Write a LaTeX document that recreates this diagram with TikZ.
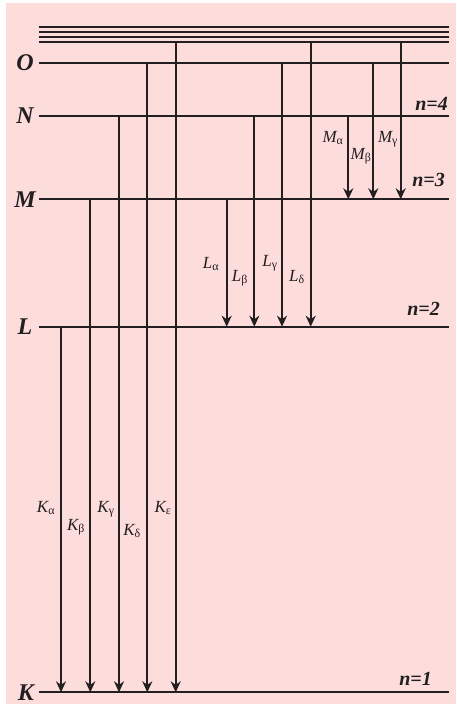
\documentclass[tikz,border=0pt]{standalone}
\usepackage{fontspec}
\setmainfont{Liberation Serif}
\usetikzlibrary{arrows.meta}
\definecolor{bgpink}{HTML}{FDDCDC}
\definecolor{ink}{HTML}{231F20}
\tikzset{lvl/.style={font=\fontsize{24}{24}\selectfont\bfseries\itshape,text=ink},
shell/.style={line width=2pt,draw=ink},
trans/.style={line width=2pt,draw=ink,-{Stealth[length=11pt,width=10pt]}},
qn/.style={font=\fontsize{20}{20}\selectfont\bfseries\itshape,text=ink,anchor=east,inner sep=0pt},
tlbl/.style={font=\fontsize{17}{17}\selectfont\itshape,text=ink,inner sep=0pt}}
\begin{document}
\begin{tikzpicture}[x=1pt,y=-1pt]
\useasboundingbox(0,0)rectangle(456,704);\fill[bgpink](6,3)rectangle(456,704);
% shells
\node[lvl](O)at(25,62.7){O};\node[lvl](N)at(25,116){N};\node[lvl](M)at(25,199.3){M};\node[lvl](L)at(25,326.7){L};\node[lvl](K)at(26,692.3){K};
\coordinate(inf)at(39,41.7);
\foreach\y in{26.7,31.7,36.7}\draw[shell](39,\y)--(449,\y);
\draw[shell](inf)--(449,0|-inf);\draw[shell](39,0|-O)--(449,0|-O);\draw[shell](39,0|-N)--(449,0|-N);\draw[shell](39,0|-M)--(449,0|-M);\draw[shell](39,0|-L)--(449,0|-L);\draw[shell](39,0|-K)--(449,0|-K);
\node[qn](n4)at(448,104){n=4};\node[qn](n3)at(445,180){n=3};\node[qn](n2)at(440,308.5){n=2};\node[qn](n1)at(432,678.5){n=1};
% K series
\draw[trans](61,0|-L)--(61,0|-K);\draw[trans](90.3,0|-M)--(90.3,0|-K);\draw[trans](119,0|-N)--(119,0|-K);\draw[trans](147.3,0|-O)--(147.3,0|-K);\draw[trans](175.7,0|-inf)--(175.7,0|-K);
\node[tlbl](ka)at(46,508){K\textsubscript{\upshape α}};\node[tlbl](kb)at(76,527){K\textsubscript{\upshape β}};\node[tlbl](kg)at(106,509){K\textsubscript{\upshape γ}};\node[tlbl](kd)at(132,531){K\textsubscript{\upshape δ}};\node[tlbl](ke)at(163,508){K\textsubscript{\upshape ε}};
% L series
\draw[trans](226.7,0|-M)--(226.7,0|-L);\draw[trans](254.3,0|-N)--(254.3,0|-L);\draw[trans](282,0|-O)--(282,0|-L);\draw[trans](310.7,0|-inf)--(310.7,0|-L);
\node[tlbl](la)at(211,264){L\textsubscript{\upshape α}};\node[tlbl](lb)at(240,278){L\textsubscript{\upshape β}};\node[tlbl](lg)at(270,263){L\textsubscript{\upshape γ}};\node[tlbl](ld)at(297,277){L\textsubscript{\upshape δ}};
% M series
\draw[trans](348.3,0|-N)--(348.3,0|-M);\draw[trans](373.3,0|-O)--(373.3,0|-M);\draw[trans](400.7,0|-inf)--(400.7,0|-M);
\node[tlbl](ma)at(333,138){M\textsubscript{\upshape α}};\node[tlbl](mb)at(361,156){M\textsubscript{\upshape β}};\node[tlbl](mg)at(388,139){M\textsubscript{\upshape γ}};
\end{tikzpicture}
\end{document}
